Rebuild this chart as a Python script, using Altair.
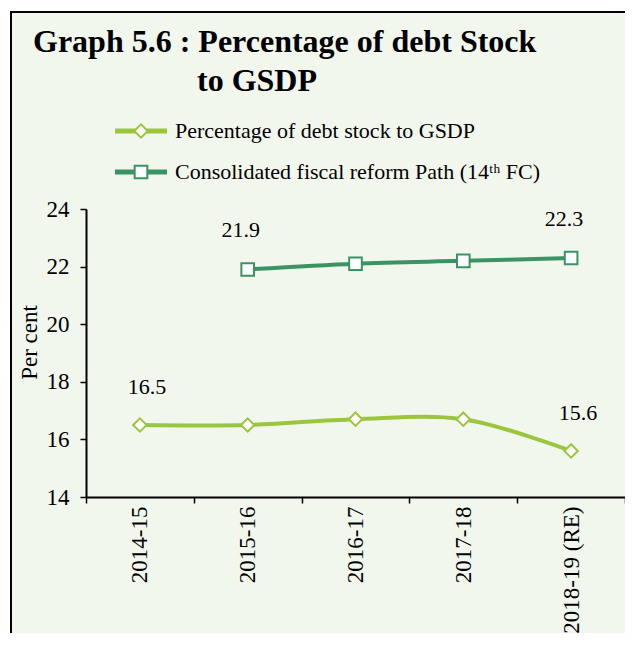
import altair as alt
import pandas as pd

years = ["2014-15", "2015-16", "2016-17", "2017-18", "2018-19 (RE)"]
debt_pct = [16.5, 16.5, 16.7, 16.7, 15.6]
fc_path = [None, 21.9, 22.1, 22.2, 22.3]
series_names = ["Percentage of debt stock to GSDP",
                "Consolidated fiscal reform Path (14\u1d57\u02b0 FC)"]
series_colors = ["#9BC53D", "#3B9262"]
series_shapes = ["diamond", "square"]
title_lines = ["Graph 5.6 : Percentage of debt Stock", "to GSDP"]
y_ticks = [14, 16, 18, 20, 22, 24]

FONT = "Liberation Serif"
BG = "#F2F7EE"

rows = []
for s, vals in zip(series_names, [debt_pct, fc_path]):
    for yr, v in zip(years, vals):
        if v is not None:
            rows.append({"year": yr, "series": s, "value": v})
df = pd.DataFrame(rows)
label_df = pd.concat([g.iloc[[0, -1]] for _, g in df.groupby("series", sort=False)])

x_enc = alt.X("year:N", sort=years,
              scale=alt.Scale(type="band", domain=years, paddingInner=0, paddingOuter=0),
              bandPosition=0.5,
              axis=alt.Axis(title=None, tickBand="extent", labelAngle=270, labelAlign="right",
                            labelBaseline="middle", labelPadding=3, tickSize=6,
                            labelFont=FONT, labelFontSize=23, labelColor="black",
                            domainColor="black", tickColor="black", domainWidth=2, tickWidth=1.5,
                            grid=False, zindex=1))
y_enc = alt.Y("value:Q", scale=alt.Scale(domain=[14, 24], nice=False, zero=False),
              axis=alt.Axis(values=y_ticks, title="Per cent", titleFont=FONT, titleFontSize=23,
                            titleFontWeight="normal", titleColor="black", titleAngle=270,
                            titleX=-50, titleY=133, titleAlign="center", titleBaseline="alphabetic",
                            labelFont=FONT, labelFontSize=23, labelColor="black", labelPadding=11,
                            tickSize=6, tickColor="black", domainColor="black", domainWidth=2,
                            tickWidth=1.5, grid=False, zindex=1))

color_scale = alt.Scale(domain=series_names, range=series_colors)
one = pd.DataFrame({"k": [0]})

# white page strips outside the framed box, and the box border
strip_left = alt.Chart(one).mark_rect(fill="white").encode(
    x=alt.value(-79), x2=alt.value(-75), y=alt.value(-202), y2=alt.value(430))
strip_top = alt.Chart(one).mark_rect(fill="white").encode(
    x=alt.value(-79), x2=alt.value(560), y=alt.value(-202), y2=alt.value(-197))
frame = alt.Chart(one).mark_rect(fill="transparent", stroke="black", strokeWidth=2).encode(
    x=alt.value(-75), x2=alt.value(800), y=alt.value(-197), y2=alt.value(900))

title1 = alt.Chart(pd.DataFrame({"t": [title_lines[0]]})).mark_text(
    align="left", baseline="alphabetic", font=FONT, fontSize=32, fontWeight="bold", color="black"
).encode(text="t:N", x=alt.value(-53), y=alt.value(-157))
title2 = alt.Chart(pd.DataFrame({"t": [title_lines[1]]})).mark_text(
    align="left", baseline="alphabetic", font=FONT, fontSize=32, fontWeight="bold", color="black"
).encode(text="t:N", x=alt.value(111), y=alt.value(-118))

lines = alt.Chart(df).mark_line(interpolate="catmull-rom", strokeWidth=4).encode(
    x=x_enc, y=y_enc, color=alt.Color("series:N", scale=color_scale, legend=None),
    detail="series:N")

pts_d = alt.Chart(df).transform_filter(alt.datum.series == series_names[0]).mark_point(
    shape="diamond", filled=False, fill="white", fillOpacity=1, size=180, strokeWidth=2, opacity=1
).encode(x=x_enc, y=y_enc, color=alt.Color("series:N", scale=color_scale, legend=None))
pts_s = alt.Chart(df).transform_filter(alt.datum.series == series_names[1]).mark_point(
    shape="square", filled=False, fill="white", fillOpacity=1, size=160, strokeWidth=2, opacity=1
).encode(x=x_enc, y=y_enc, color=alt.Color("series:N", scale=color_scale, legend=None))

lab_light = alt.Chart(label_df).transform_filter(alt.datum.series == series_names[0]).mark_text(
    font=FONT, fontSize=22, color="black", dy=-38, dx=7
).encode(x=x_enc, y=y_enc, text=alt.Text("value:Q", format=".1f"))
lab_dark = alt.Chart(label_df).transform_filter(alt.datum.series == series_names[1]).mark_text(
    font=FONT, fontSize=22, color="black", dy=-39, dx=-7
).encode(x=x_enc, y=y_enc, text=alt.Text("value:Q", format=".1f"))

# legend rows (line + marker + label) at the top of the chart
legend_layers = []
for i, (name, col, shp) in enumerate(zip(series_names, series_colors, series_shapes)):
    ly = -78 + 41 * i
    row = pd.DataFrame({"name": [name]})
    legend_layers.append(alt.Chart(row).mark_rule(color=col, strokeWidth=5).encode(
        x=alt.value(29), x2=alt.value(81), y=alt.value(ly)))
    legend_layers.append(alt.Chart(row).mark_point(
        shape=shp, filled=False, fill="white", fillOpacity=1, color=col, opacity=1,
        size=180 if shp == "diamond" else 160, strokeWidth=2
    ).encode(x=alt.value(55), y=alt.value(ly)))
    legend_layers.append(alt.Chart(row).mark_text(
        align="left", baseline="middle", font=FONT, fontSize=22, color="black"
    ).encode(text="name:N", x=alt.value(89), y=alt.value(ly)))

chart = alt.layer(strip_left, strip_top, frame, title1, title2, *legend_layers, lines, pts_d, pts_s,
                  lab_light, lab_dark).properties(
    width=539, height=288,
    padding={"left": 78, "top": 201, "right": 0, "bottom": 136},
    autosize=alt.AutoSizeParams(type="none"),
    background=BG,
).configure_view(stroke=None)

chart.save("out.html", embed_options={"renderer": "svg", "actions": False})
